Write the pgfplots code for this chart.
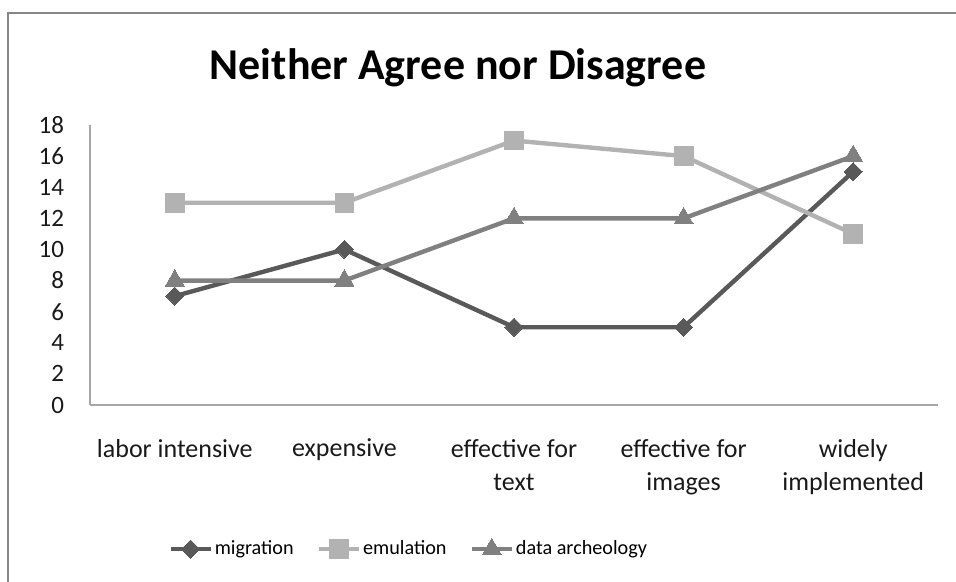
\documentclass[border=0pt]{standalone}
\usepackage{fontspec}
\setmainfont{Carlito}
\usepackage{pgfplots}
\pgfplotsset{compat=1.18}
\definecolor{migc}{HTML}{595959}
\definecolor{emuc}{HTML}{B2B2B2}
\definecolor{arcc}{HTML}{808080}
\definecolor{axc}{HTML}{A6A6A6}
\definecolor{brc}{HTML}{868686}
\begin{document}
\begin{tikzpicture}
\path[use as bounding box] (0,0) rectangle (478pt,291pt);
\draw[brc, line width=1.1pt] (4pt,0) -- (4pt,284.5pt) -- (478pt,284.5pt);
\node[anchor=base, font=\fontsize{22}{26}\selectfont\bfseries] at (229pt,251pt) {Neither Agree nor Disagree};
\begin{axis}[
  at={(45pt,88.5pt)}, anchor=south west,
  scale only axis, width=424pt, height=140pt,
  xmin=-0.5, xmax=4.5, ymin=0, ymax=18,
  ytick={0,2,...,18},
  xtick={0,1,2,3,4},
  xticklabels={labor intensive, expensive, effective for\\text, effective for\\images, widely\\implemented},
  axis lines=left,
  axis line style={-, draw=axc, line width=0.7pt},
  major tick length=0pt,
  /pgf/number format/assume math mode=true,
  yticklabel style={font=\fontsize{12.5}{14}\selectfont, xshift=-9.5pt, text=black!90},
  xticklabel style={font=\fontsize{13}{16.5}\selectfont, align=center, yshift=-13.5pt, text=black!90},
  clip=false,
  legend columns=-1,
  legend style={at={(0.092,-0.514)}, anchor=west, draw=none, inner sep=0pt,
    font=\fontsize{10.1}{12}\selectfont,
    nodes={inner sep=1pt},
    /tikz/every odd column/.append style={column sep=0pt},
    /tikz/every even column/.append style={column sep=10.5pt}},
  legend image code/.code={\draw[mark repeat=2,mark phase=2] plot coordinates {(0pt,0pt) (10pt,0pt) (20pt,0pt)};},
]
\addplot[migc, line width=2.2pt, mark=square*, mark size=3.2pt, mark options={rotate=45, solid, line width=0pt}]
  coordinates {(0,7) (1,10) (2,5) (3,5) (4,15)};
\addlegendentry{migration}
\addplot[emuc, line width=2.2pt, mark=square*, mark size=4.7pt, mark options={solid, line width=0pt}]
  coordinates {(0,13) (1,13) (2,17) (3,16) (4,11)};
\addlegendentry{emulation}
\addplot[arcc, line width=2.2pt, mark=triangle*, mark size=5.5pt, mark options={solid, line width=0pt}]
  coordinates {(0,8) (1,8) (2,12) (3,12) (4,16)};
\addlegendentry{data archeology}
\end{axis}
\end{tikzpicture}
\end{document}
